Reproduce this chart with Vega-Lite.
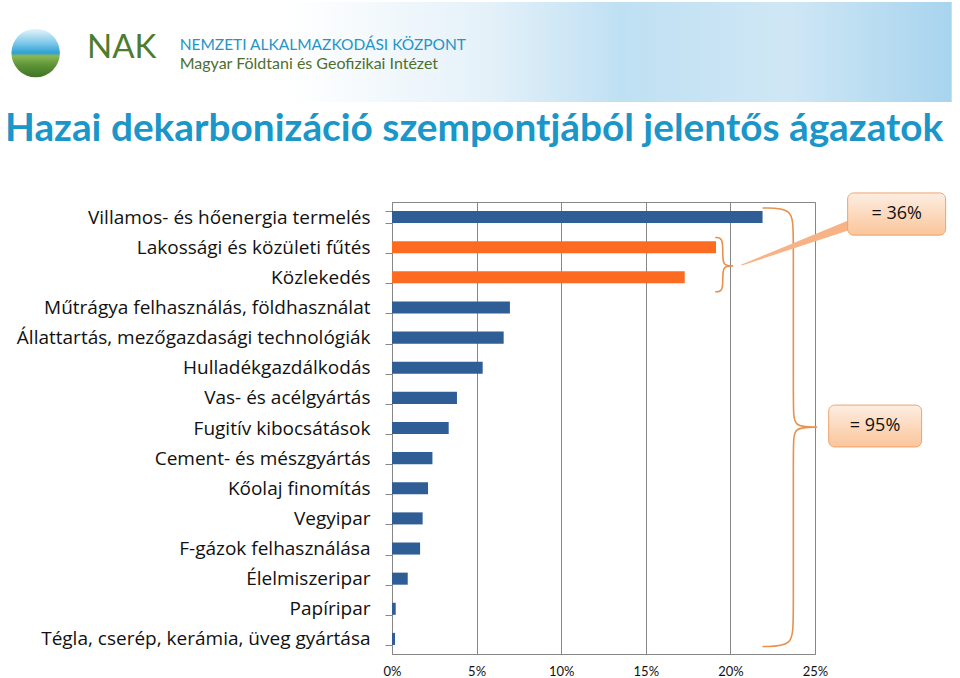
{
  "$schema": "https://vega.github.io/schema/vega-lite/v6.json",
  "padding": {"left": 5, "top": 1, "right": 5, "bottom": 2},
  "background": "white",
  "config": {"view": {"stroke": null}, "font": "Lato"},
  "width": 423,
  "height": 452,
  "view": {"stroke": "#878787", "strokeWidth": 1},
  "title": {
    "text": "Hazai dekarbonizáció szempontjából jelentős ágazatok",
    "anchor": "start", "font": "Lato", "fontSize": 38.8, "fontWeight": "bold", "color": "#1a96c8", "offset": -147
  },
  "datasets": {
    "bars": [
      {"sector": "Villamos- és hőenergia termelés", "value": 0.219, "kiemelt": "nem"},
      {"sector": "Lakossági és közületi fűtés\u00a0", "value": 0.1915, "kiemelt": "igen"},
      {"sector": "Közlekedés", "value": 0.173, "kiemelt": "igen"},
      {"sector": "Műtrágya felhasználás, földhasználat", "value": 0.0697, "kiemelt": "nem"},
      {"sector": "Állattartás, mezőgazdasági technológiák", "value": 0.066, "kiemelt": "nem"},
      {"sector": "Hulladékgazdálkodás", "value": 0.0536, "kiemelt": "nem"},
      {"sector": "Vas- és acélgyártás", "value": 0.0384, "kiemelt": "nem"},
      {"sector": "Fugitív kibocsátások", "value": 0.0335, "kiemelt": "nem"},
      {"sector": "Cement- és mészgyártás", "value": 0.0239, "kiemelt": "nem"},
      {"sector": "Kőolaj finomítás", "value": 0.0213, "kiemelt": "nem"},
      {"sector": "Vegyipar", "value": 0.0181, "kiemelt": "nem"},
      {"sector": "F-gázok felhasználása", "value": 0.0166, "kiemelt": "nem"},
      {"sector": "Élelmiszeripar", "value": 0.0093, "kiemelt": "nem"},
      {"sector": "Papíripar", "value": 0.0022, "kiemelt": "nem"},
      {"sector": "Tégla, cserép, kerámia, üveg gyártása", "value": 0.0018, "kiemelt": "nem"}
    ],
    "braces": [
      {"brace": "95", "i": 0, "x": 0.219, "y": 0.2},
      {"brace": "95", "i": 1, "x": 0.2372, "y": 0.2},
      {"brace": "95", "i": 2, "x": 0.2372, "y": 1.0},
      {"brace": "95", "i": 3, "x": 0.2372, "y": 6.9},
      {"brace": "95", "i": 4, "x": 0.2372, "y": 7.47},
      {"brace": "95", "i": 5, "x": 0.2515, "y": 7.47},
      {"brace": "95", "i": 6, "x": 0.2515, "y": 7.47},
      {"brace": "95", "i": 7, "x": 0.2372, "y": 7.47},
      {"brace": "95", "i": 8, "x": 0.2372, "y": 8.0},
      {"brace": "95", "i": 9, "x": 0.2372, "y": 13.9},
      {"brace": "95", "i": 10, "x": 0.2372, "y": 14.75},
      {"brace": "95", "i": 11, "x": 0.219, "y": 14.75},
      {"brace": "36", "i": 0, "x": 0.191, "y": 1.18},
      {"brace": "36", "i": 1, "x": 0.1955, "y": 1.18},
      {"brace": "36", "i": 2, "x": 0.1955, "y": 1.7},
      {"brace": "36", "i": 3, "x": 0.1955, "y": 2.12},
      {"brace": "36", "i": 4, "x": 0.2015, "y": 2.12},
      {"brace": "36", "i": 5, "x": 0.2015, "y": 2.12},
      {"brace": "36", "i": 6, "x": 0.1955, "y": 2.12},
      {"brace": "36", "i": 7, "x": 0.1955, "y": 2.55},
      {"brace": "36", "i": 8, "x": 0.1955, "y": 2.98},
      {"brace": "36", "i": 9, "x": 0.191, "y": 2.98}
    ],
    "tail": [
      {"end": "alap", "i": 0, "x": 0.2735, "y": 0.7},
      {"end": "csúcs", "i": 1, "x": 0.2067, "y": 2.09}
    ],
    "callouts": [
      {"label": "= 36%", "x": 0.2693, "x2": 0.3272, "y": -0.3, "y2": 1.1, "cx": 0.2983, "cy": 0.4},
      {"label": "= 95%", "x": 0.2581, "x2": 0.313, "y": 6.74, "y2": 8.13, "cx": 0.2855, "cy": 7.43}
    ]
  },
  "layer": [
    {
      "data": {"name": "bars"},
      "mark": {"type": "bar"},
      "encoding": {
        "y": {
          "field": "sector", "type": "nominal", "sort": null,
          "scale": {"paddingInner": 0.6, "paddingOuter": 0.3},
          "axis": {
            "title": null, "labelFont": "Open Sans", "labelFontSize": 19, "labelColor": "#111111",
            "labelPadding": 15, "labelLimit": 600, "tickSize": 7, "tickColor": "#878787",
            "domainColor": "#878787", "tickBand": "extent", "grid": false, "minExtent": 387
          }
        },
        "x": {
          "field": "value", "type": "quantitative",
          "scale": {"domain": [0, 0.25], "nice": false},
          "axis": {
            "title": null, "format": ".0%", "values": [0, 0.05, 0.1, 0.15, 0.2, 0.25],
            "grid": true, "gridColor": "#878787", "gridOpacity": 1, "ticks": false,
            "labelFont": "Lato", "labelFontSize": 13, "labelColor": "#111111", "labelPadding": 11,
            "domainColor": "#878787", "labelFlush": false
          }
        },
        "color": {
          "field": "kiemelt", "type": "nominal",
          "scale": {"domain": ["nem", "igen"], "range": ["#2f5e97", "#fd6a22"]},
          "legend": null
        }
      }
    },
    {
      "layer": [
        {
          "data": {"values": [{}]},
          "mark": {
            "type": "rect",
            "fill": {"gradient": "linear", "x1": 0, "y1": 0, "x2": 1, "y2": 0,
              "stops": [
                {"offset": 0, "color": "#ffffff"},
                {"offset": 0.3, "color": "#e4f1f9"},
                {"offset": 0.5, "color": "#bfe0f3"},
                {"offset": 0.75, "color": "#cfe7f5"},
                {"offset": 1, "color": "#a8d4ee"}
              ]}
          },
          "encoding": {
            "x": {"datum": -0.0605, "type": "quantitative"},
            "x2": {"datum": 0.3308},
            "y": {"datum": -6.638, "type": "quantitative", "scale": {"domain": [0, 15], "reverse": true, "nice": false, "zero": false}, "axis": null},
            "y2": {"datum": -3.319}
          }
        },
        {
          "data": {"values": [{}]},
          "mark": {
            "type": "point", "shape": "circle", "filled": true, "size": 2350, "opacity": 1, "strokeWidth": 0,
            "fill": {"gradient": "linear", "x1": 0, "y1": 0, "x2": 0, "y2": 1,
              "stops": [
                {"offset": 0, "color": "#e6f4fb"},
                {"offset": 0.3, "color": "#7cc8ea"},
                {"offset": 0.5, "color": "#2f9fd3"},
                {"offset": 0.56, "color": "#8ab858"},
                {"offset": 0.75, "color": "#5e9436"},
                {"offset": 1, "color": "#3e7327"}
              ]}
          },
          "encoding": {
            "x": {"datum": -0.2106, "type": "quantitative"},
            "y": {"datum": -4.945, "type": "quantitative", "scale": {"domain": [0, 15], "reverse": true, "nice": false, "zero": false}, "axis": null}
          }
        },
        {
          "data": {"values": [{}]},
          "mark": {"type": "text", "fontSize": 33, "font": "Lato", "color": "#4d7c2e", "align": "center", "baseline": "alphabetic"},
          "encoding": {
            "x": {"datum": -0.1597, "type": "quantitative"},
            "y": {"datum": -4.779, "type": "quantitative", "scale": {"domain": [0, 15], "reverse": true, "nice": false, "zero": false}, "axis": null},
            "text": {"value": "NAK"}
          }
        },
        {
          "data": {"values": [{}]},
          "mark": {"type": "text", "fontSize": 15.5, "font": "Lato", "color": "#2594c6", "align": "left", "baseline": "alphabetic"},
          "encoding": {
            "x": {"datum": -0.1255, "type": "quantitative"},
            "y": {"datum": -5.045, "type": "quantitative", "scale": {"domain": [0, 15], "reverse": true, "nice": false, "zero": false}, "axis": null},
            "text": {"value": "NEMZETI ALKALMAZKODÁSI KÖZPONT"}
          }
        },
        {
          "data": {"values": [{}]},
          "mark": {"type": "text", "fontSize": 16, "font": "Lato", "color": "#4e6f2c", "align": "left", "baseline": "alphabetic"},
          "encoding": {
            "x": {"datum": -0.1255, "type": "quantitative"},
            "y": {"datum": -4.414, "type": "quantitative", "scale": {"domain": [0, 15], "reverse": true, "nice": false, "zero": false}, "axis": null},
            "text": {"value": "Magyar Földtani és Geofizikai Intézet"}
          }
        },
        {
          "data": {"name": "braces"},
          "mark": {"type": "line", "interpolate": "basis", "color": "#e8914f", "strokeWidth": 1.6},
          "encoding": {
            "x": {"field": "x", "type": "quantitative"},
            "y": {"field": "y", "type": "quantitative", "scale": {"domain": [0, 15], "reverse": true, "nice": false, "zero": false}, "axis": null},
            "detail": {"field": "brace"},
            "order": {"field": "i", "type": "quantitative"}
          }
        },
        {
          "data": {"name": "tail"},
          "mark": {"type": "trail", "color": "#f7b385"},
          "encoding": {
            "x": {"field": "x", "type": "quantitative"},
            "y": {"field": "y", "type": "quantitative", "scale": {"domain": [0, 15], "reverse": true, "nice": false, "zero": false}, "axis": null},
            "order": {"field": "i", "type": "quantitative"},
            "size": {"field": "end", "type": "ordinal", "scale": {"domain": ["csúcs", "alap"], "range": [1, 10]}, "legend": null}
          }
        },
        {
          "data": {"name": "callouts"},
          "mark": {
            "type": "rect", "cornerRadius": 6, "stroke": "#eea36b", "strokeWidth": 1,
            "fill": {"gradient": "linear", "x1": 0, "y1": 0, "x2": 0, "y2": 1,
              "stops": [{"offset": 0, "color": "#fdeee2"}, {"offset": 1, "color": "#fbc59a"}]}
          },
          "encoding": {
            "x": {"field": "x", "type": "quantitative"},
            "x2": {"field": "x2"},
            "y": {"field": "y", "type": "quantitative", "scale": {"domain": [0, 15], "reverse": true, "nice": false, "zero": false}, "axis": null},
            "y2": {"field": "y2"}
          }
        },
        {
          "data": {"name": "callouts"},
          "mark": {"type": "text", "font": "Open Sans", "fontSize": 18, "color": "#111111", "align": "center", "baseline": "middle"},
          "encoding": {
            "x": {"field": "cx", "type": "quantitative"},
            "y": {"field": "cy", "type": "quantitative", "scale": {"domain": [0, 15], "reverse": true, "nice": false, "zero": false}, "axis": null},
            "text": {"field": "label"}
          }
        }
      ]
    }
  ],
  "resolve": {"scale": {"y": "independent"}, "axis": {"y": "independent"}}
}
